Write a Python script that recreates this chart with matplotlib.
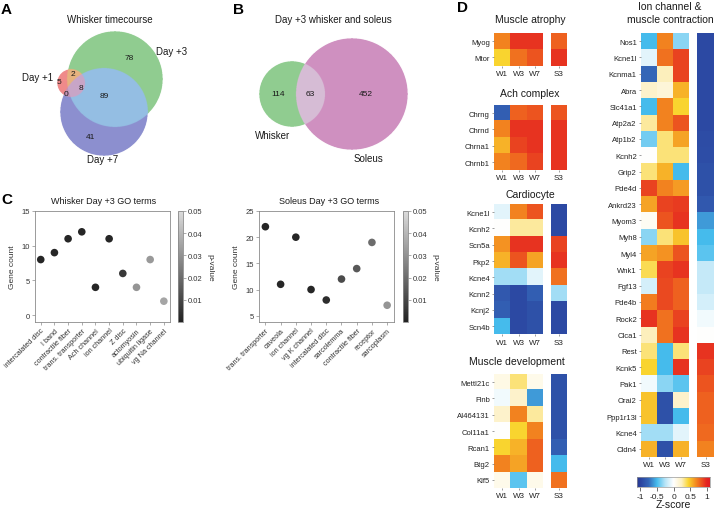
import numpy as np
import matplotlib
matplotlib.use('Agg')
import matplotlib.pyplot as plt
from matplotlib.colors import LinearSegmentedColormap, Normalize, to_rgba

plt.rcParams['font.family'] = ['Liberation Sans', 'DejaVu Sans']

# ---------------- DATA ----------------
# Panel A: whisker timecourse Venn (region counts)
venn_a_sets = ['Day +1', 'Day +3', 'Day +7']
venn_a_only1 = 5
venn_a_12 = 2
venn_a_123 = 8
venn_a_13 = 0
venn_a_only2 = 78
venn_a_23 = 89
venn_a_only3 = 41

# Panel B: Day +3 whisker and soleus
venn_b_sets = ['Whisker', 'Soleus']
venn_b_counts = [114, 63, 452]

# Panel C: GO terms
go_w_terms = ['intercalated disc', 'I band', 'contractile fiber', 'trans. transporter',
              'Ach channel', 'ion channel', 'Z disc', 'actomyosin', 'ubiquitin ligase',
              'vg Na channel']
go_w_counts = [8, 9, 11, 12, 4, 11, 6, 4, 8, 2]
go_w_p = [0.001, 0.001, 0.001, 0.001, 0.001, 0.001, 0.006, 0.031, 0.032, 0.035]

go_s_terms = ['trans. transporter', 'caveola', 'ion channel', 'vg K channel',
              'intercalated disc', 'sarcolemma', 'contractile fiber', 'receptor', 'sarcoplasm']
go_s_counts = [22, 11, 20, 10, 8, 12, 14, 19, 7]
go_s_p = [0.001, 0.001, 0.001, 0.001, 0.003, 0.011, 0.015, 0.020, 0.031]

# Panel D: heatmaps (Z-scores; columns W1, W3, W7 and separate S3)
w_cols = ['W1', 'W3', 'W7']
s_col = ['S3']

atrophy_genes = ['Myog', 'Mtor']
atrophy_w = [[0.70, 0.95, 0.95],
             [0.45, 0.75, 0.85]]
atrophy_s3 = [0.80, 0.95]

ach_genes = ['Chrng', 'Chrnd', 'Chrna1', 'Chrnb1']
ach_w = [[-0.80, 0.80, 0.85],
         [0.70, 0.95, 0.95],
         [0.55, 0.90, 0.95],
         [0.70, 0.78, 0.90]]
ach_s3 = [0.85, 0.95, 0.95, 0.95]

cardio_genes = ['Kcne1l', 'Kcnh2', 'Scn5a', 'Pkp2', 'Kcne4', 'Kcnn2', 'Kcnj2', 'Scn4b']
cardio_w = [[-0.10, 0.70, 0.85],
            [0.00, 0.30, 0.30],
            [0.65, 0.95, 0.95],
            [0.55, 0.85, 0.60],
            [-0.30, -0.30, -0.10],
            [-0.85, -0.95, -0.80],
            [-0.80, -0.95, -0.90],
            [-0.50, -0.95, -0.90]]
cardio_s3 = [-0.95, -0.95, 0.90, 0.95, 0.75, -0.30, -0.95, -0.95]

dev_genes = ['Mettl21c', 'Flnb', 'AI464131', 'Col11a1', 'Rcan1', 'Btg2', 'Klf5']
dev_w = [[0.10, 0.35, 0.08],
         [-0.05, 0.20, -0.60],
         [0.20, 0.70, 0.30],
         [0.00, 0.45, 0.70],
         [0.45, 0.55, 0.80],
         [0.70, 0.60, 0.80],
         [0.08, -0.45, 0.08]]
dev_s3 = [-0.90, -0.90, -0.90, -0.90, -0.80, -0.50, 0.75]

ion_genes = ['Nos1', 'Kcne1l', 'Kcnma1', 'Abra', 'Slc41a1', 'Atp2a2', 'Atp1b2', 'Kcnh2',
             'Grip2', 'Pde4d', 'Ankrd23', 'Myom3', 'Myh8', 'Myl4', 'Wnk1', 'Fgf13',
             'Pde4b', 'Rock2', 'Clca1', 'Rest', 'Kcnk5', 'Pak1', 'Orai2', 'Ppp1r13l',
             'Kcne4', 'Cldn4']
ion_w = [[-0.50, 0.70, -0.35],
         [-0.10, 0.75, 0.90],
         [-0.75, 0.25, 0.90],
         [0.20, 0.15, 0.55],
         [-0.50, 0.70, 0.45],
         [0.30, 0.70, 0.85],
         [-0.40, 0.35, 0.60],
         [0.00, 0.35, 0.35],
         [0.35, 0.55, -0.50],
         [0.90, 0.70, 0.62],
         [0.60, 0.90, 0.92],
         [0.05, 0.85, 0.95],
         [-0.35, 0.35, 0.50],
         [0.60, 0.65, 0.85],
         [0.40, 0.90, 0.95],
         [-0.15, 0.88, 0.80],
         [0.72, 0.88, 0.80],
         [0.95, 0.75, 0.90],
         [0.25, 0.75, 0.95],
         [0.35, -0.50, 0.35],
         [0.45, -0.50, 0.95],
         [-0.05, -0.35, -0.45],
         [0.50, -0.90, 0.20],
         [0.50, -0.90, -0.50],
         [-0.30, -0.30, -0.10],
         [0.55, -0.90, 0.55]]
ion_s3 = [-0.95, -0.95, -0.95, -0.95, -0.95, -0.95, -0.93, -0.92, -0.90, -0.90,
          -0.85, -0.60, -0.50, -0.45, -0.20, -0.20, -0.15, -0.05, 0.00, 0.95,
          0.90, 0.85, 0.80, 0.80, 0.78, 0.70]

zticks = [-1, -0.5, 0, 0.5, 1]

# ---------------- FIGURE ----------------
W, H = 716, 510
fig = plt.figure(figsize=(W / 100, H / 100), dpi=100)


def px(x0, y0, x1, y1):
    return [x0 / W, 1 - y1 / H, (x1 - x0) / W, (y1 - y0) / H]


bg = fig.add_axes([0, 0, 1, 1])
bg.axis('off')
bg.set_zorder(-1)

TXT = '#1a1a1a'


def venn_raster(ax, circles, colors, box, res=4):
    x0, x1, y0, y1 = box
    xs = np.linspace(x0, x1, int((x1 - x0) * res))
    ys = np.linspace(y0, y1, int((y1 - y0) * res))
    X, Y = np.meshgrid(xs, ys)
    code = np.zeros(X.shape, dtype=int)
    for i, (cx, cy, r) in enumerate(circles):
        code |= (((X - cx) ** 2 + (Y - cy) ** 2) <= r * r).astype(int) << i
    img = np.ones(X.shape + (4,))
    img[..., 3] = 0
    for k, col in colors.items():
        img[code == k] = to_rgba(col)
    ax.imshow(img, extent=(x0, x1, y1, y0), origin='upper',
              interpolation='antialiased', aspect='auto', zorder=1)


# Panel A
circ_a = [(71, 84, 14), (115, 80, 48), (104, 113, 44)]
cols_a = {1: '#f08a8a', 2: '#90cc90', 4: '#8c8fcf', 3: '#e6b27e',
          5: '#c592b5', 6: '#94bee3', 7: '#c9a5c8'}
venn_raster(bg, circ_a, cols_a, (50, 170, 25, 165))
bg.text(110, 20, 'Whisker timecourse', ha='center', va='center', fontsize=7, color=TXT)
bg.text(38, 78, venn_a_sets[0], ha='center', va='center', fontsize=7, color=TXT)
bg.text(172, 52, venn_a_sets[1], ha='center', va='center', fontsize=7, color=TXT)
bg.text(103, 160, venn_a_sets[2], ha='center', va='center', fontsize=7, color=TXT)
for (x, y, v) in [(59, 82, venn_a_only1), (73, 75, venn_a_12), (81, 89, venn_a_123),
                  (66, 95, venn_a_13), (129, 59, venn_a_only2), (104, 96, venn_a_23),
                  (91, 138, venn_a_only3)]:
    bg.text(x, y, str(v), ha='center', va='center', fontsize=6, color=TXT)

# Panel B
circ_b = [(292, 95, 33), (352, 95, 56)]
cols_b = {1: '#90cc90', 2: '#cf90c0', 3: '#d7bdd6'}
venn_raster(bg, circ_b, cols_b, (250, 415, 35, 155))
bg.text(333, 20, 'Day +3 whisker and soleus', ha='center', va='center', fontsize=7, color=TXT)
bg.text(273, 136, venn_b_sets[0], ha='center', va='center', fontsize=7, color=TXT)
bg.text(368, 159, venn_b_sets[1], ha='center', va='center', fontsize=7, color=TXT)
for (x, y), v in zip([(278, 94), (310, 94), (366, 94)], venn_b_counts):
    bg.text(x, y, str(v), ha='center', va='center', fontsize=6, color=TXT)

# panel letters
for (x, y, s) in [(6, 10, 'A'), (238, 10, 'B'), (7, 200, 'C'), (462, 8, 'D')]:
    bg.text(x, y, s, ha='center', va='center', fontsize=11, fontweight='bold', color='black')

bg.set_xlim(0, W)
bg.set_ylim(H, 0)

# Panel C
gray_cmap = LinearSegmentedColormap.from_list('pg', ['#222222', '#dcdcdc'])
SP = '#8a8a8a'


def go_panel(rect, crect, terms, counts, pv, ylim, yticks, title, tx):
    ax = fig.add_axes(px(*rect))
    sc = ax.scatter(range(len(terms)), counts, c=pv, cmap=gray_cmap, vmin=0, vmax=0.05,
                    s=30, edgecolors='none', zorder=3)
    ax.set_xlim(-0.42, len(terms) - 0.55)
    ax.set_ylim(*ylim)
    ax.set_yticks(yticks)
    ax.set_xticks(range(len(terms)))
    ax.set_xticklabels(terms, rotation=45, ha='right', rotation_mode='anchor', fontsize=5)
    ax.tick_params(labelsize=5.5, length=2, width=0.5, color=SP, labelcolor='#333333', pad=1.5)
    ax.tick_params(axis='x', labelsize=5.2)
    for s in ax.spines.values():
        s.set_color(SP)
        s.set_linewidth(0.6)
    ax.set_ylabel('Gene count', fontsize=6, color='#333333', labelpad=4)
    fig.text(tx / W, 1 - 202 / H, title, ha='center', va='center', fontsize=6.5, color=TXT)
    cax = fig.add_axes(px(*crect))
    cb = fig.colorbar(sc, cax=cax)
    cb.set_ticks([0.01, 0.02, 0.03, 0.04, 0.05])
    cb.ax.tick_params(labelsize=5.5, length=2, width=0.5, color=SP, labelcolor='#333333', pad=1.5)
    cb.outline.set_edgecolor(SP)
    cb.outline.set_linewidth(0.6)
    cb.set_label('p-value', rotation=270, fontsize=6, color='#333333', labelpad=8)
    return ax


go_panel((35, 212, 170, 323), (178, 212, 183, 323), go_w_terms, go_w_counts, go_w_p,
         (-1, 15), [0, 5, 10, 15], 'Whisker Day +3 GO terms', 104)
go_panel((259, 212, 394, 323), (403, 212, 408, 323), go_s_terms, go_s_counts, go_s_p,
         (3.8, 25), [5, 10, 15, 20, 25], 'Soleus Day +3 GO terms', 329)

# Panel D
zmin, zmax = -1.1, 1.1
nodes = [(-1.1, '#263890'), (-1.0, '#2b439f'), (-0.75, '#3567b8'), (-0.5, '#46bdee'),
         (-0.25, '#b8e5f7'), (0.0, '#ffffff'), (0.25, '#fdf0c0'), (0.45, '#fad530'),
         (0.7, '#f3831f'), (1.0, '#e52521'), (1.1, '#e01e24')]
zcmap = LinearSegmentedColormap.from_list(
    'z', [((v - zmin) / (zmax - zmin), c) for v, c in nodes])
znorm = Normalize(zmin, zmax)


def style_hm(ax):
    for s in ax.spines.values():
        s.set_visible(False)
    ax.tick_params(length=1.5, width=0.5, color='#777777', labelsize=5.5, pad=1.5,
                   labelcolor='#222222')


def heat_block(x0, x1, sx0, sx1, y0, genes, wvals, svals, title, title_x, title_y, row=16.3):
    y1 = y0 + row * len(genes)
    ax = fig.add_axes(px(x0, y0, x1, y1))
    ax.imshow(np.array(wvals), cmap=zcmap, norm=znorm, aspect='auto', interpolation='nearest')
    ax.set_yticks(range(len(genes)))
    ax.set_yticklabels(genes)
    ax.set_xticks(range(len(w_cols)))
    ax.set_xticklabels(w_cols)
    style_hm(ax)
    ax.tick_params(axis='x', labelsize=5.8)
    axs = fig.add_axes(px(sx0, y0, sx1, y1))
    axs.imshow(np.array(svals)[:, None], cmap=zcmap, norm=znorm, aspect='auto',
               interpolation='nearest')
    axs.set_yticks([])
    axs.set_xticks([0])
    axs.set_xticklabels(s_col)
    style_hm(axs)
    axs.tick_params(axis='x', labelsize=5.8)
    if title:
        for i, line in enumerate(title.split('\n')):
            fig.text(title_x / W, 1 - (title_y + i * 13) / H, line, ha='center',
                     va='center', fontsize=7.5, color=TXT)


heat_block(494, 543, 551, 567, 34, atrophy_genes, atrophy_w, atrophy_s3,
           'Muscle atrophy', 530, 20)
heat_block(494, 543, 551, 567, 106, ach_genes, ach_w, ach_s3, 'Ach complex', 530, 94)
heat_block(494, 543, 551, 567, 205, cardio_genes, cardio_w, cardio_s3, 'Cardiocyte', 530, 195)
heat_block(494, 543, 551, 567, 375, dev_genes, dev_w, dev_s3, 'Muscle development', 517, 362)
heat_block(641, 689, 697, 714, 34, ion_genes, ion_w, ion_s3,
           'Ion channel &\nmuscle contraction', 670, 7)

# Z-score colorbar
cax = fig.add_axes(px(637, 478, 710, 488))
grad = np.linspace(zmin, zmax, 256)[None, :]
cax.imshow(grad, cmap=zcmap, norm=znorm, aspect='auto', extent=(zmin, zmax, 0, 1))
cax.set_xlim(zmin, zmax)
cax.set_yticks([])
cax.set_xticks(zticks)
cax.set_xticklabels(['-1', '-0.5', '0', '0.5', '1'])
for s in cax.spines.values():
    s.set_color('#999999')
    s.set_linewidth(0.5)
cax.tick_params(axis='x', length=3, width=0.6, color='#555555', labelsize=6, pad=1,
                labelcolor='#222222')
fig.text(673 / W, 1 - 505 / H, 'Z-score', ha='center', va='center', fontsize=7.5, color=TXT)

fig.savefig('out.png', dpi=100)
